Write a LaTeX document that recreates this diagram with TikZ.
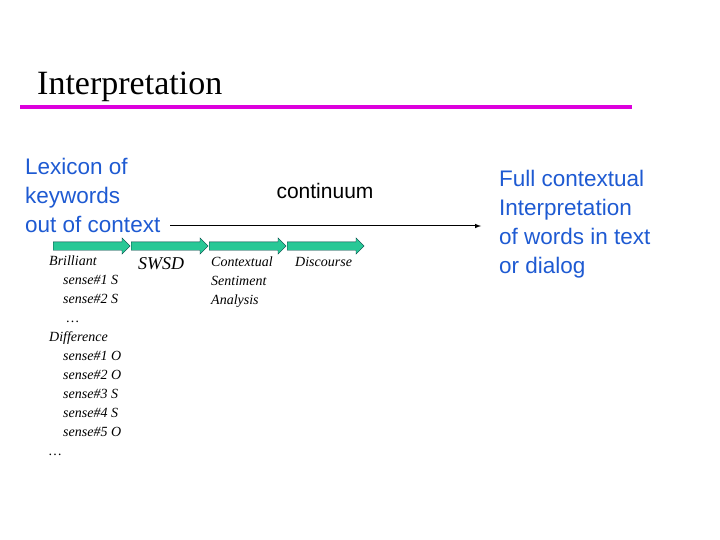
\documentclass[tikz,border=0pt]{standalone}
\usepackage{fontspec}
\setmainfont{Liberation Serif}
\newfontfamily\sansf{Liberation Sans}
\usetikzlibrary{shapes.arrows}
\definecolor{blu}{RGB}{30,90,210}
\definecolor{mag}{RGB}{220,0,220}
\definecolor{teal1}{RGB}{40,200,150}
\begin{document}
\begin{tikzpicture}[x=1pt,y=-1pt,
 blk/.style={single arrow, draw=teal!50!black, fill=teal1, minimum height=77pt, minimum width=0pt, single arrow head extend=4pt, single arrow head indent=0pt, inner sep=4pt, anchor=west},
 bt/.style={font=\sansf\fontsize{22.5}{29}\selectfont, text=blu, align=left, anchor=north west, inner sep=0pt},
 it/.style={font=\itshape\fontsize{14}{19}\selectfont, align=left, anchor=north west, inner sep=0pt}]
\useasboundingbox (0,0) rectangle (720,540);
\node[font=\fontsize{34}{38}\selectfont, anchor=base west, inner sep=0pt] (title) at (37,95) {Interpretation};
\draw[mag, line width=4pt] (20,107) -- (632,107);
\node[bt] (lex) at (25,158) {Lexicon of\\keywords\\out of context};
\node[font=\sansf\fontsize{21}{24}\selectfont, inner sep=0pt] (cont) at (325,191) {continuum};
\node[bt] (full) at (499,170) {Full contextual\\Interpretation\\of words in text\\or dialog};
\coordinate (s0) at (170,226);
\coordinate (e) at (481,226);
\draw[-latex, line width=1pt] (s0) -- (e);
\node[blk] (a1) at (53,246) {};
\node[blk] (a2) at (131,246) {};
\node[blk] (a3) at (209,246) {};
\node[blk] (a4) at (287,246) {};
\node[it] (b) at (49,256) {Brilliant\\\ \ \ \ sense\#1 S\\\ \ \ \ sense\#2 S\\\ \ \ \ \ …\\Difference\\\ \ \ \ sense\#1 O\\\ \ \ \ sense\#2 O\\\ \ \ \ sense\#3 S\\\ \ \ \ sense\#4 S\\\ \ \ \ sense\#5 O\\…};
\node[font=\itshape\fontsize{18}{20}\selectfont, anchor=north west, inner sep=0pt] (s) at (138,257) {SWSD};
\node[it] (c) at (211,257) {Contextual\\Sentiment\\Analysis};
\node[it] (d) at (295,257) {Discourse};
\end{tikzpicture}
\end{document}
